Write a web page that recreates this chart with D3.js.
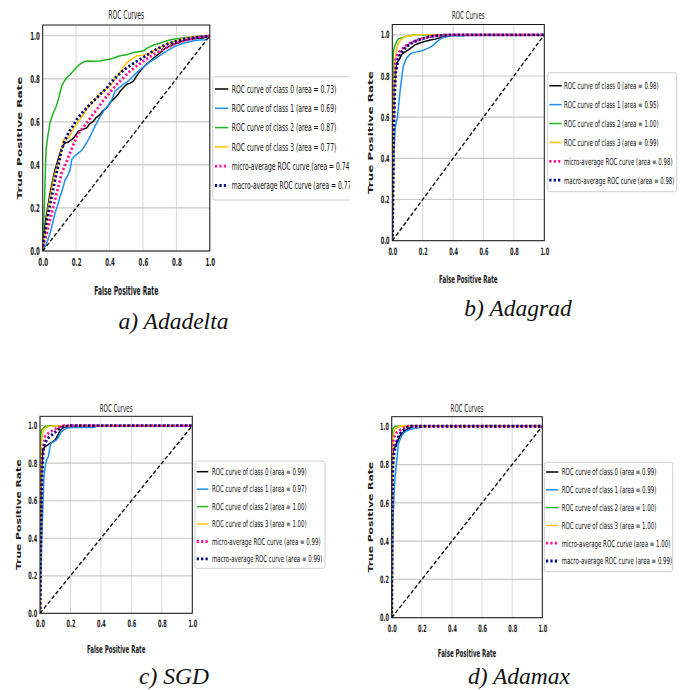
<!DOCTYPE html>
<html>
<head>
<meta charset="utf-8">
<script src="https://cdn.jsdelivr.net/npm/d3@7"></script>
<style>
  body { margin: 0; background: #fff; }
  svg { display: block; }
</style>
</head>
<body>
<svg id="fig" width="684" height="690"></svg>
<script>
// ---------- shared labels ----------
const tickValues = [0.0, 0.2, 0.4, 0.6, 0.8, 1.0];
const seriesNames = [
  "ROC curve of class 0",
  "ROC curve of class 1",
  "ROC curve of class 2",
  "ROC curve of class 3",
  "micro-average ROC curve",
  "macro-average ROC curve"
];
const chartTitle = "ROC Curves";
const xLabel = "False Positive Rate";
const yLabel = "True Positive Rate";
const captions = ["a) Adadelta", "b) Adagrad", "c) SGD", "d) Adamax"];

// ---------- a) Adadelta : [fpr, tpr] ----------
const adadeltaAreas = [0.73, 0.69, 0.87, 0.77, 0.74, 0.77];
const adadeltaClass0 = [[0,0],[0.004,0.02],[0.01,0.1],[0.024,0.176],[0.044,0.269],[0.06,0.33],[0.074,0.378],[0.09,0.42],[0.104,0.456],[0.12,0.49],[0.134,0.502],[0.15,0.505],[0.174,0.518],[0.19,0.53],[0.214,0.557],[0.24,0.565],[0.264,0.572],[0.28,0.59],[0.304,0.603],[0.32,0.62],[0.344,0.635],[0.36,0.65],[0.384,0.666],[0.404,0.69],[0.424,0.705],[0.444,0.72],[0.464,0.743],[0.484,0.76],[0.504,0.775],[0.524,0.78],[0.544,0.79],[0.56,0.81],[0.584,0.837],[0.61,0.86],[0.644,0.883],[0.67,0.9],[0.704,0.922],[0.73,0.94],[0.764,0.953],[0.8,0.965],[0.844,0.977],[0.88,0.982],[0.924,0.988],[0.96,0.99],[0.98,0.995],[1,1]];
const adadeltaClass1 = [[0,0],[0.014,0.02],[0.03,0.05],[0.044,0.082],[0.06,0.13],[0.074,0.176],[0.09,0.215],[0.104,0.253],[0.12,0.29],[0.134,0.331],[0.15,0.35],[0.164,0.378],[0.174,0.425],[0.19,0.44],[0.214,0.456],[0.23,0.465],[0.244,0.479],[0.264,0.505],[0.284,0.533],[0.304,0.565],[0.324,0.596],[0.344,0.625],[0.364,0.65],[0.384,0.67],[0.404,0.689],[0.42,0.715],[0.434,0.743],[0.46,0.76],[0.484,0.775],[0.504,0.785],[0.524,0.798],[0.544,0.815],[0.564,0.829],[0.594,0.85],[0.624,0.868],[0.654,0.885],[0.684,0.899],[0.714,0.915],[0.744,0.93],[0.784,0.947],[0.824,0.961],[0.864,0.97],[0.904,0.977],[0.94,0.98],[0.974,0.981],[0.99,0.99],[1,1]];
const adadeltaClass2 = [[0,0],[0.005,0.12],[0.01,0.207],[0.015,0.35],[0.02,0.47],[0.03,0.53],[0.044,0.596],[0.054,0.62],[0.064,0.642],[0.08,0.67],[0.094,0.705],[0.104,0.735],[0.114,0.767],[0.13,0.79],[0.144,0.806],[0.164,0.82],[0.184,0.837],[0.204,0.855],[0.224,0.868],[0.244,0.878],[0.264,0.883],[0.3,0.882],[0.344,0.883],[0.37,0.887],[0.404,0.891],[0.43,0.898],[0.464,0.907],[0.5,0.912],[0.544,0.922],[0.58,0.927],[0.604,0.93],[0.63,0.945],[0.664,0.957],[0.7,0.965],[0.744,0.977],[0.78,0.984],[0.824,0.988],[0.86,0.992],[0.904,0.995],[0.95,0.998],[1,1]];
const adadeltaClass3 = [[0,0],[0.005,0.03],[0.014,0.082],[0.024,0.15],[0.034,0.207],[0.05,0.27],[0.064,0.331],[0.084,0.39],[0.104,0.44],[0.114,0.48],[0.124,0.518],[0.14,0.52],[0.154,0.526],[0.174,0.555],[0.194,0.58],[0.22,0.61],[0.244,0.635],[0.27,0.665],[0.294,0.689],[0.32,0.71],[0.344,0.728],[0.374,0.75],[0.404,0.767],[0.43,0.795],[0.454,0.821],[0.48,0.85],[0.504,0.876],[0.534,0.893],[0.564,0.907],[0.594,0.91],[0.624,0.914],[0.654,0.925],[0.684,0.938],[0.714,0.95],[0.744,0.961],[0.784,0.973],[0.824,0.984],[0.864,0.99],[0.904,0.997],[0.95,0.998],[1,1]];
const adadeltaMicro = [[0,0],[0.004,0.028],[0.02,0.07],[0.034,0.114],[0.054,0.175],[0.074,0.238],[0.094,0.3],[0.114,0.362],[0.14,0.41],[0.164,0.456],[0.184,0.495],[0.204,0.533],[0.234,0.565],[0.264,0.596],[0.294,0.628],[0.324,0.658],[0.354,0.69],[0.384,0.72],[0.414,0.748],[0.444,0.775],[0.484,0.806],[0.524,0.837],[0.564,0.86],[0.604,0.883],[0.644,0.903],[0.684,0.922],[0.724,0.938],[0.764,0.953],[0.804,0.966],[0.844,0.977],[0.9,0.988],[0.95,0.995],[1,1]];
const adadeltaMacro = [[0,0],[0.004,0.051],[0.02,0.12],[0.034,0.176],[0.054,0.255],[0.074,0.331],[0.094,0.4],[0.114,0.471],[0.134,0.515],[0.154,0.549],[0.18,0.58],[0.204,0.611],[0.234,0.64],[0.264,0.666],[0.294,0.69],[0.324,0.712],[0.354,0.735],[0.384,0.759],[0.414,0.787],[0.444,0.813],[0.474,0.833],[0.504,0.852],[0.544,0.872],[0.584,0.891],[0.624,0.91],[0.664,0.93],[0.704,0.946],[0.744,0.961],[0.794,0.973],[0.844,0.984],[0.92,0.993],[1,1]];

// ---------- b) Adagrad ----------
const adagradAreas = [0.98, 0.95, 1.00, 0.99, 0.98, 0.98];
const adagradClass0 = [[0,0],[0.004,0.3],[0.007,0.587],[0.013,0.749],[0.022,0.83],[0.028,0.855],[0.035,0.87],[0.05,0.885],[0.06,0.903],[0.08,0.915],[0.105,0.927],[0.13,0.94],[0.149,0.951],[0.18,0.96],[0.215,0.968],[0.25,0.975],[0.28,0.979],[0.31,0.985],[0.346,0.992],[0.39,1],[1,1]];
const adagradClass1 = [[0,0],[0.004,0.15],[0.007,0.28],[0.011,0.425],[0.018,0.539],[0.026,0.575],[0.035,0.603],[0.042,0.66],[0.05,0.717],[0.06,0.78],[0.072,0.846],[0.083,0.87],[0.094,0.887],[0.11,0.9],[0.127,0.911],[0.16,0.917],[0.193,0.922],[0.215,0.928],[0.237,0.935],[0.26,0.945],[0.28,0.956],[0.3,0.97],[0.325,0.984],[0.36,0.99],[0.39,0.995],[0.478,0.995],[0.48,1],[1,1]];
const adagradClass2 = [[0,0],[0.003,0.6],[0.006,0.9],[0.01,0.93],[0.018,0.95],[0.03,0.97],[0.04,0.98],[0.06,0.985],[0.08,0.99],[0.12,0.995],[0.15,1],[1,1]];
const adagradClass3 = [[0,0],[0.004,0.3],[0.007,0.59],[0.013,0.75],[0.018,0.85],[0.022,0.895],[0.03,0.935],[0.04,0.96],[0.06,0.978],[0.08,0.99],[0.12,0.995],[0.17,1],[1,1]];
const adagradMicro = [[0,0],[0.004,0.25],[0.007,0.506],[0.01,0.65],[0.013,0.749],[0.017,0.83],[0.022,0.879],[0.035,0.903],[0.05,0.92],[0.066,0.932],[0.083,0.943],[0.105,0.954],[0.127,0.963],[0.16,0.972],[0.193,0.98],[0.235,0.988],[0.28,0.995],[0.33,0.998],[0.368,1],[1,1]];
const adagradMacro = [[0,0],[0.004,0.2],[0.007,0.426],[0.01,0.55],[0.013,0.636],[0.017,0.73],[0.022,0.814],[0.035,0.87],[0.05,0.903],[0.07,0.925],[0.094,0.943],[0.12,0.957],[0.149,0.968],[0.19,0.98],[0.237,0.99],[0.28,0.995],[0.325,0.998],[0.41,1],[1,1]];

// ---------- c) SGD ----------
const sgdAreas = [0.99, 0.97, 1.00, 1.00, 0.99, 0.99];
const sgdClass0 = [[0,0],[0.005,0.5],[0.011,0.765],[0.018,0.87],[0.025,0.88],[0.033,0.888],[0.05,0.897],[0.066,0.906],[0.085,0.915],[0.1,0.924],[0.115,0.945],[0.127,0.968],[0.14,0.98],[0.153,0.991],[0.2,0.998],[0.25,1],[1,1]];
const sgdClass1 = [[0,0],[0.005,0.15],[0.008,0.25],[0.011,0.375],[0.018,0.552],[0.026,0.729],[0.037,0.8],[0.045,0.82],[0.055,0.835],[0.062,0.87],[0.07,0.906],[0.09,0.915],[0.109,0.924],[0.125,0.945],[0.142,0.968],[0.16,0.98],[0.175,0.986],[0.2,0.99],[0.36,0.99],[0.362,1],[1,1]];
const sgdClass2 = [[0,0],[0.003,0.7],[0.006,0.95],[0.009,0.977],[0.02,0.985],[0.033,0.995],[0.066,1],[1,1]];
const sgdClass3 = [[0,0],[0.004,0.6],[0.009,0.906],[0.015,0.95],[0.022,0.977],[0.035,0.988],[0.055,0.995],[0.1,1],[1,1]];
const sgdMicro = [[0,0],[0.003,0.3],[0.007,0.552],[0.01,0.7],[0.013,0.818],[0.02,0.88],[0.033,0.942],[0.055,0.96],[0.07,0.968],[0.088,0.977],[0.11,0.987],[0.131,0.995],[0.153,1],[1,1]];
const sgdMacro = [[0,0],[0.003,0.25],[0.007,0.464],[0.01,0.6],[0.013,0.729],[0.018,0.81],[0.022,0.87],[0.03,0.9],[0.044,0.924],[0.06,0.94],[0.077,0.95],[0.1,0.966],[0.12,0.981],[0.153,0.995],[0.2,1],[1,1]];

// ---------- d) Adamax ----------
const adamaxAreas = [0.99, 0.99, 1.00, 1.00, 1.00, 0.99];
const adamaxClass0 = [[0,0],[0.002,0.5],[0.004,0.835],[0.011,0.87],[0.02,0.89],[0.029,0.906],[0.04,0.925],[0.055,0.95],[0.07,0.965],[0.088,0.977],[0.105,0.985],[0.122,0.991],[0.144,1],[1,1]];
const adamaxClass1 = [[0,0],[0.004,0.2],[0.007,0.375],[0.011,0.552],[0.016,0.65],[0.022,0.729],[0.033,0.818],[0.044,0.906],[0.055,0.93],[0.066,0.95],[0.08,0.965],[0.1,0.977],[0.133,0.986],[0.166,0.991],[0.2,0.993],[0.202,1],[1,1]];
const adamaxClass2 = [[0,0],[0.003,0.9],[0.007,0.986],[0.022,1],[1,1]];
const adamaxClass3 = [[0,0],[0.003,0.7],[0.007,0.942],[0.015,0.97],[0.022,0.986],[0.04,0.995],[0.055,1],[1,1]];
const adamaxMicro = [[0,0],[0.002,0.4],[0.004,0.729],[0.008,0.87],[0.011,0.924],[0.02,0.95],[0.033,0.968],[0.05,0.978],[0.066,0.986],[0.1,1],[1,1]];
const adamaxMacro = [[0,0],[0.002,0.35],[0.004,0.64],[0.008,0.78],[0.011,0.835],[0.02,0.875],[0.029,0.906],[0.04,0.935],[0.055,0.96],[0.07,0.975],[0.088,0.986],[0.105,0.995],[0.122,1],[1,1]];

// ---------- styles of the six series ----------
const seriesStyles = [
  { color: "#000000", width: 1.5, dash: null },
  { color: "#1e8ff0", width: 1.5, dash: null },
  { color: "#1fb51f", width: 1.5, dash: null },
  { color: "#ffc300", width: 1.5, dash: null },
  { color: "#ff1493", width: 2.8, dash: "2.2,2.2" },
  { color: "#000080", width: 2.8, dash: "2.2,2.2" }
];

// ---------- panel layout ----------
const panels = [
  { series: [adadeltaClass0, adadeltaClass1, adadeltaClass2, adadeltaClass3, adadeltaMicro, adadeltaMacro],
    areas: adadeltaAreas, caption: captions[0],
    left: 42.7, right: 209.8, top: 25, bottom: 251,
    titleY: 15, xLabelY: 290.7, yLabelX: 19, clipRight: 350,
    fs: { tick: 11, label: 11.5, ylab: 12, title: 12, legend: 10.5 },
    legend: { x: 212.7, y: 76.7, w: 150, h: 123.3, row0: 89, step: 19.3, lx1: 215, lx2: 228.3, tx: 231.7 },
    capX: 173.5, capY: 329 },
  { series: [adagradClass0, adagradClass1, adagradClass2, adagradClass3, adagradMicro, adagradMacro],
    areas: adagradAreas, caption: captions[1],
    left: 392.3, right: 544.3, top: 24.5, bottom: 240.7,
    titleY: 15, xLabelY: 279.3, yLabelX: 370.7, clipRight: null,
    fs: { tick: 10, label: 10.5, ylab: 12, title: 11, legend: 9.5 },
    legend: { x: 547.3, y: 72.7, w: 129.4, h: 119, row0: 85.7, step: 18.9, lx1: 549.3, lx2: 561.7, tx: 564 },
    capX: 518, capY: 316 },
  { series: [sgdClass0, sgdClass1, sgdClass2, sgdClass3, sgdMicro, sgdMacro],
    areas: sgdAreas, caption: captions[2],
    left: 40, right: 192.3, top: 416.3, bottom: 613.3,
    titleY: 408.3, xLabelY: 649, yLabelX: 19, clipRight: null,
    fs: { tick: 10, label: 10.5, ylab: 10.8, title: 11, legend: 9.5 },
    legend: { x: 195, y: 461, w: 130, h: 107.3, row0: 471.7, step: 17.45, lx1: 196.7, lx2: 208.3, tx: 212 },
    capX: 174, capY: 684 },
  { series: [adamaxClass0, adamaxClass1, adamaxClass2, adamaxClass3, adamaxMicro, adamaxMacro],
    areas: adamaxAreas, caption: captions[3],
    left: 391.7, right: 542.3, top: 416.7, bottom: 617.7,
    titleY: 408.3, xLabelY: 653.3, yLabelX: 370.7, clipRight: null,
    fs: { tick: 10, label: 10.5, ylab: 10.8, title: 11, legend: 9.5 },
    legend: { x: 544.3, y: 462.3, w: 128.4, h: 109.4, row0: 472, step: 17.8, lx1: 546, lx2: 558.3, tx: 561.7 },
    capX: 519, capY: 684 }
];

const SANS = "'DejaVu Sans', sans-serif";
const SERIF = "'Liberation Serif', 'Times New Roman', serif";
const SX_TEXT = 0.5;      // horizontal squeeze of the plot lettering
const SX_LEGEND = 0.575;
const SX_YLAB = 0.6;

const svg = d3.select("#fig");
svg.append("rect").attr("width", 684).attr("height", 690).attr("fill", "#fff");
const defs = svg.append("defs");

panels.forEach((p, pi) => {
  const root = svg.append("g");
  if (p.clipRight) {
    defs.append("clipPath").attr("id", "panel-clip-" + pi)
      .append("rect").attr("x", 0).attr("y", 0).attr("width", p.clipRight).attr("height", 690);
    root.attr("clip-path", `url(#panel-clip-${pi})`);
  }

  const x = d3.scaleLinear().domain([0, 1]).range([p.left, p.right]);
  const y = d3.scaleLinear().domain([0, 1.05]).range([p.bottom, p.top]);

  // grid
  root.append("g").selectAll("line").data(tickValues).join("line")
    .attr("x1", d => x(d)).attr("x2", d => x(d))
    .attr("y1", p.top).attr("y2", p.bottom)
    .attr("stroke", "#d9d9d9").attr("stroke-width", 1);
  root.append("g").selectAll("line").data(tickValues).join("line")
    .attr("x1", p.left).attr("x2", p.right)
    .attr("y1", d => y(d)).attr("y2", d => y(d))
    .attr("stroke", "#c8c8c8").attr("stroke-width", 1.2);

  // curves, clipped to the plotting area
  const clipId = "plot-clip-" + pi;
  defs.append("clipPath").attr("id", clipId)
    .append("rect").attr("x", p.left).attr("y", p.top)
    .attr("width", p.right - p.left).attr("height", p.bottom - p.top);
  const plot = root.append("g").attr("clip-path", `url(#${clipId})`);
  const line = d3.line().x(d => x(d[0])).y(d => y(d[1]));

  p.series.forEach((s, i) => {
    const st = seriesStyles[i];
    plot.append("path").datum(s).attr("d", line)
      .attr("fill", "none").attr("stroke", st.color)
      .attr("stroke-width", st.width)
      .attr("stroke-dasharray", st.dash)
      .attr("stroke-linejoin", "round");
  });
  // chance diagonal
  plot.append("path").datum([[0, 0], [1, 1]]).attr("d", line)
    .attr("fill", "none").attr("stroke", "#111").attr("stroke-width", 1.4)
    .attr("stroke-dasharray", "4,2.2");

  // frame
  root.append("rect").attr("x", p.left).attr("y", p.top)
    .attr("width", p.right - p.left).attr("height", p.bottom - p.top)
    .attr("fill", "none").attr("stroke", "#1a1a1a").attr("stroke-width", 1);

  // axes
  const fmt = d3.format(".1f");
  const gx = root.append("g").attr("transform", `translate(0,${p.bottom})`)
    .call(d3.axisBottom(x).tickValues(tickValues).tickFormat(fmt).tickSize(0).tickPadding(7));
  const gy = root.append("g").attr("transform", `translate(${p.left},0)`)
    .call(d3.axisLeft(y).tickValues(tickValues).tickFormat(fmt).tickSize(0).tickPadding(2.8 / SX_TEXT));
  [gx, gy].forEach(ax => {
    ax.select(".domain").remove();
    ax.selectAll(".tick line").remove();
    ax.selectAll("text")
      .attr("font-family", SANS).attr("font-size", p.fs.tick)
      .attr("font-weight", "bold").attr("fill", "#1a1a1a")
      .attr("transform", `scale(${SX_TEXT},1)`);
  });

  const cx = (p.left + p.right) / 2;
  const cy = (p.top + p.bottom) / 2;

  // title
  root.append("text")
    .attr("transform", `translate(${cx},${p.titleY}) scale(${SX_TEXT},1)`)
    .attr("text-anchor", "middle").attr("dy", "0.35em")
    .attr("font-family", SANS).attr("font-size", p.fs.title).attr("fill", "#1a1a1a")
    .text(chartTitle);

  // axis labels
  root.append("text")
    .attr("transform", `translate(${cx},${p.xLabelY}) scale(${SX_TEXT + 0.02},1)`)
    .attr("text-anchor", "middle").attr("dy", "0.35em")
    .attr("font-family", SANS).attr("font-size", p.fs.label).attr("font-weight", "bold")
    .attr("fill", "#1a1a1a").text(xLabel);
  root.append("text")
    .attr("transform", `translate(${p.yLabelX},${cy}) scale(${SX_YLAB},1) rotate(-90)`)
    .attr("text-anchor", "middle").attr("dy", "0.35em")
    .attr("font-family", SANS).attr("font-size", p.fs.ylab).attr("font-weight", "bold")
    .attr("fill", "#1a1a1a").text(yLabel);

  // legend
  const L = p.legend;
  const lg = root.append("g");
  lg.append("rect").attr("x", L.x).attr("y", L.y).attr("width", L.w).attr("height", L.h)
    .attr("rx", 2).attr("fill", "#fff").attr("stroke", "#d0d0d0").attr("stroke-width", 1);
  seriesNames.forEach((name, i) => {
    const st = seriesStyles[i];
    const ry = L.row0 + i * L.step;
    lg.append("line").attr("x1", L.lx1).attr("x2", L.lx2).attr("y1", ry).attr("y2", ry)
      .attr("stroke", st.color).attr("stroke-width", st.width)
      .attr("stroke-dasharray", st.dash);
    lg.append("text")
      .attr("transform", `translate(${L.tx},${ry}) scale(${SX_LEGEND},1)`)
      .attr("dy", "0.35em")
      .attr("font-family", SANS).attr("font-size", p.fs.legend).attr("fill", "#111")
      .text(`${name} (area = ${p.areas[i].toFixed(2)})`);
  });

  // caption under the panel
  svg.append("text")
    .attr("x", p.capX).attr("y", p.capY)
    .attr("text-anchor", "middle")
    .attr("font-family", SERIF).attr("font-style", "italic").attr("font-size", 23.5)
    .attr("fill", "#111")
    .text(p.caption);
});
</script>
</body>
</html>
